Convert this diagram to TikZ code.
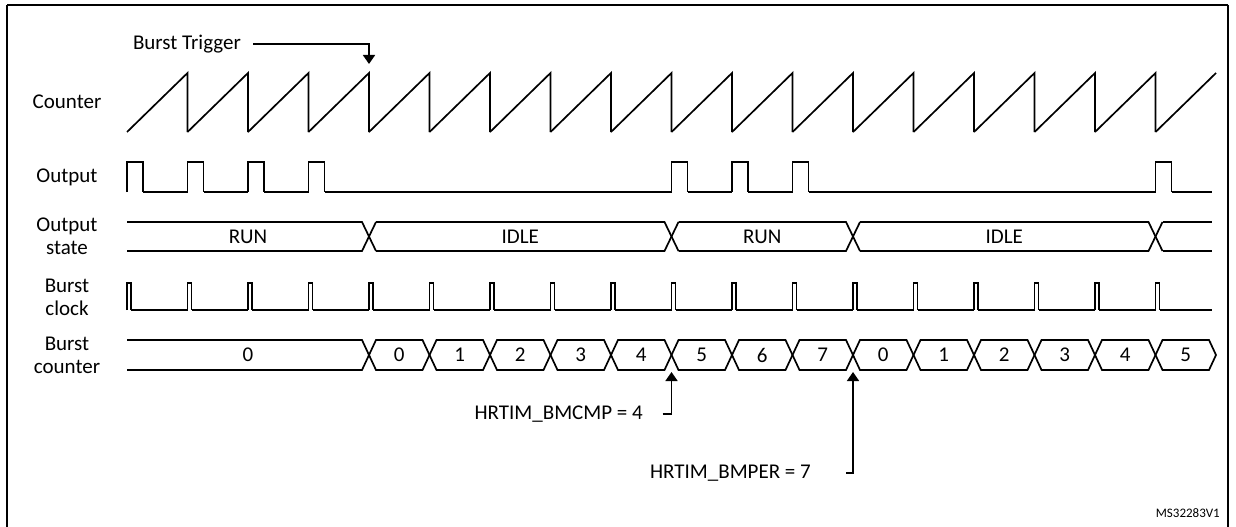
\documentclass[tikz,border=0pt]{standalone}
\usepackage{fontspec}
\setmainfont{Carlito}
\usetikzlibrary{arrows.meta}
\begin{document}
\begin{tikzpicture}[x=1pt,y=-1pt,line width=1.7pt,line join=miter]

% definitions
\tikzstyle{lbl} = [font=\fontsize{21}{23}\selectfont, align=center]
\tikzstyle{val} = [font=\fontsize{21}{23}\selectfont]
\tikzstyle{arrow} = [-{Triangle[width=12pt,length=9pt]}]
\def\P{60.5}

\useasboundingbox (0,0) rectangle (1236,527);
\draw[line width=1.8pt] (7,5) -- (1228,5) (7,5) -- (7,530) (1228,5) -- (1228,530);

% labels
\node (lcnt) [lbl] at (67,102) {Counter};
\node (lout) [lbl] at (67,177) {Output};
\node (lst) [lbl] at (67,236) {Output\\state};
\node (lclk) [lbl] at (67,297) {Burst\\clock};
\node (lbc) [lbl] at (67,355) {Burst\\counter};

% counter
\foreach \k in {0,...,16}
  \draw ({127+\k*\P},132) -- ({127+(\k+1)*\P},73) -- ({127+(\k+1)*\P},132);
\draw ({127+17*\P},132) -- ({127+18*\P},73);

% burst trigger
\node (trig) [val, anchor=east] at (245,44) {Burst Trigger};
\coordinate (tend) at ({127+4*\P},64);
\draw [arrow] (trig.east) ++(8,0) -| (tend);

% output
\foreach \k in {0,1,2,3,9,10,11,17}
  \draw ({127+\k*\P},192) -- ({127+\k*\P},162) -- ({143+\k*\P},162) -- ({143+\k*\P},192);
\draw (143,192) -- (127+\P,192) (143+\P,192) -- (127+2*\P,192) (143+2*\P,192) -- (127+3*\P,192)
      (143+3*\P,192) -- (127+9*\P,192) (143+9*\P,192) -- (127+10*\P,192) (143+10*\P,192) -- (127+11*\P,192)
      (143+11*\P,192) -- (127+17*\P,192) (143+17*\P,192) -- (1212,192);

% output state
\foreach \a/\b/\t in {127/4/RUN, 4/9/IDLE, 9/12/RUN, 12/17/IDLE} {
  \pgfmathsetmacro\xa{\a==127 ? 120 : 127+\a*\P}
  \pgfmathsetmacro\xb{127+\b*\P}
  \draw ({max(\xa+7,127)},222) -- ({\xb-7},222) -- (\xb,236.5) -- ({\xb-7},251) -- ({max(\xa+7,127)},251);
  \draw (\xb,236.5) -- ({\xb+7},222) (\xb,236.5) -- ({\xb+7},251);
  \node[val] at ({(max(\xa,127)+\xb)/2},236.5) {\t};
}
\draw ({127+17*\P+7},222) -- (1212,222) ({127+17*\P+7},251) -- (1212,251);

% burst clock
\foreach \k in {0,...,17}
  \draw ({127+\k*\P},310) -- ({127+\k*\P},283) -- ({131+\k*\P},283) -- ({131+\k*\P},310);
\foreach \k in {0,...,16}
  \draw ({131+\k*\P},310) -- ({127+(\k+1)*\P},310);
\draw ({131+17*\P},310) -- (1212,310);

% burst counter
\draw (127,340) -- ({127+4*\P-7},340) -- ({127+4*\P},355) -- ({127+4*\P-7},370) -- (127,370);
\node[val] at ({127+2*\P},355) {0};
\foreach \v [count=\k from 4] in {0,1,2,3,4,5,6,7,0,1,2,3,4,5} {
  \draw ({127+\k*\P},355) -- ({127+\k*\P+7},340) -- ({127+(\k+1)*\P-7},340) -- ({127+(\k+1)*\P},355)
        -- ({127+(\k+1)*\P-7},370) -- ({127+\k*\P+7},370) -- cycle;
  \node[val] at ({127+(\k+0.5)*\P},355) {\v};
}

% compare / period
\coordinate (cmp) at ({127+9*\P},372);
\coordinate (per) at ({127+12*\P},372);
\node (tcmp) [val, anchor=east] at (647,414) {HRTIM\_BMCMP = 4};
\node (tper) [val, anchor=east] at (815,473) {HRTIM\_BMPER = 7};
\draw [arrow] ({127+9*\P-9},414) -| (cmp);
\draw [arrow] ({127+12*\P-7},473) -| (per);

\node (ref) [font=\fontsize{13}{15}\selectfont, anchor=east] at (1224,513) {MS32283V1};

\end{tikzpicture}
\end{document}
